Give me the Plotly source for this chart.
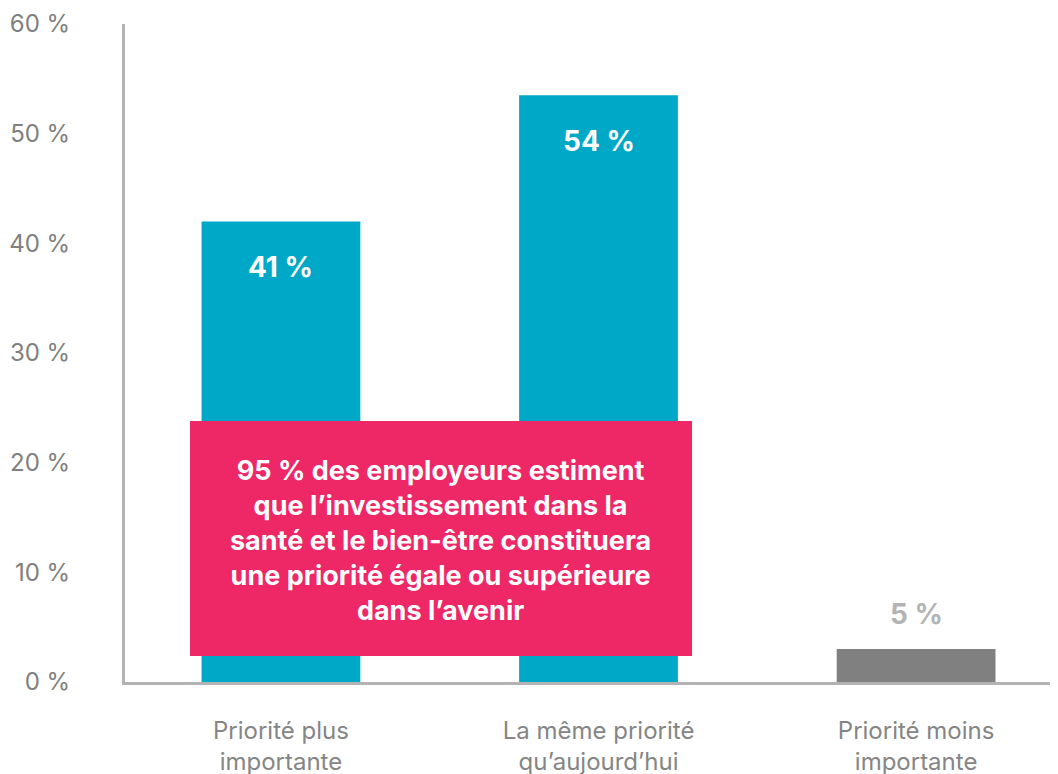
import plotly.graph_objects as go

categories = ["Priorité plus<br>importante", "La même priorité<br>qu’aujourd’hui", "Priorité moins<br>importante"]
values = [42, 53.5, 3]
value_labels = ["41 %", "54 %", "5 %"]
bar_colors = ["#00a8c8", "#00a8c8", "#7f807f"]
label_colors = ["#ffffff", "#ffffff", "#b4b4b4"]
label_shift = [-46, -46, 35]
y_ticks = [0, 10, 20, 30, 40, 50, 60]
y_tick_text = [f"{v} %" for v in y_ticks]
callout = ("95 % des employeurs estiment<br>que l’investissement dans la<br>"
           "santé et le bien-être constituera<br>une priorité égale ou supérieure<br>dans l’avenir")

FONT = "Inter, Roboto, sans-serif"

fig = go.Figure()
fig.add_trace(go.Bar(
    x=list(range(len(categories))), y=values, width=0.5,
    marker=dict(color=bar_colors, line=dict(width=0)),
    hoverinfo="skip",
))

for i, (v, t, c, s) in enumerate(zip(values, value_labels, label_colors, label_shift)):
    fig.add_annotation(x=i, y=v, xref="x", yref="y", text=f"<b>{t}</b>", showarrow=False,
                       yshift=s, font=dict(family=FONT, size=28, color=c))

fig.add_shape(type="rect", xref="paper", yref="paper", x0=0.0691, x1=0.6026, y0=0.0395, y1=0.3967,
              fillcolor="#ee2766", line=dict(width=0), layer="above")
fig.add_annotation(xref="paper", yref="paper", x=0.3358, y=0.2158, text=f"<b>{callout}</b>",
                   showarrow=False, align="center", xanchor="center", yanchor="middle",
                   font=dict(family=FONT, size=27, color="#ffffff"))

fig.update_layout(
    width=1058, height=774,
    margin=dict(l=117, r=0, t=16, b=100),
    paper_bgcolor="white", plot_bgcolor="white",
    showlegend=False,
    bargap=0.5,
    xaxis=dict(
        range=[-0.491, 2.472], tickmode="array", tickvals=list(range(len(categories))),
        ticktext=categories, showgrid=False, zeroline=False,
        showline=True, linecolor="#b3b3b3", linewidth=3,
        ticks="", ticklabelstandoff=25,
        tickfont=dict(family=FONT, size=24, color="#858585"),
    ),
    yaxis=dict(
        range=[0, 60], tickmode="array", tickvals=y_ticks, ticktext=y_tick_text,
        showgrid=False, zeroline=False, showline=True, linecolor="#b3b3b3", linewidth=3,
        ticks="", ticklabelstandoff=47,
        tickfont=dict(family=FONT, size=24, color="#808080"),
    ),
)

fig.write_html("out.html")
